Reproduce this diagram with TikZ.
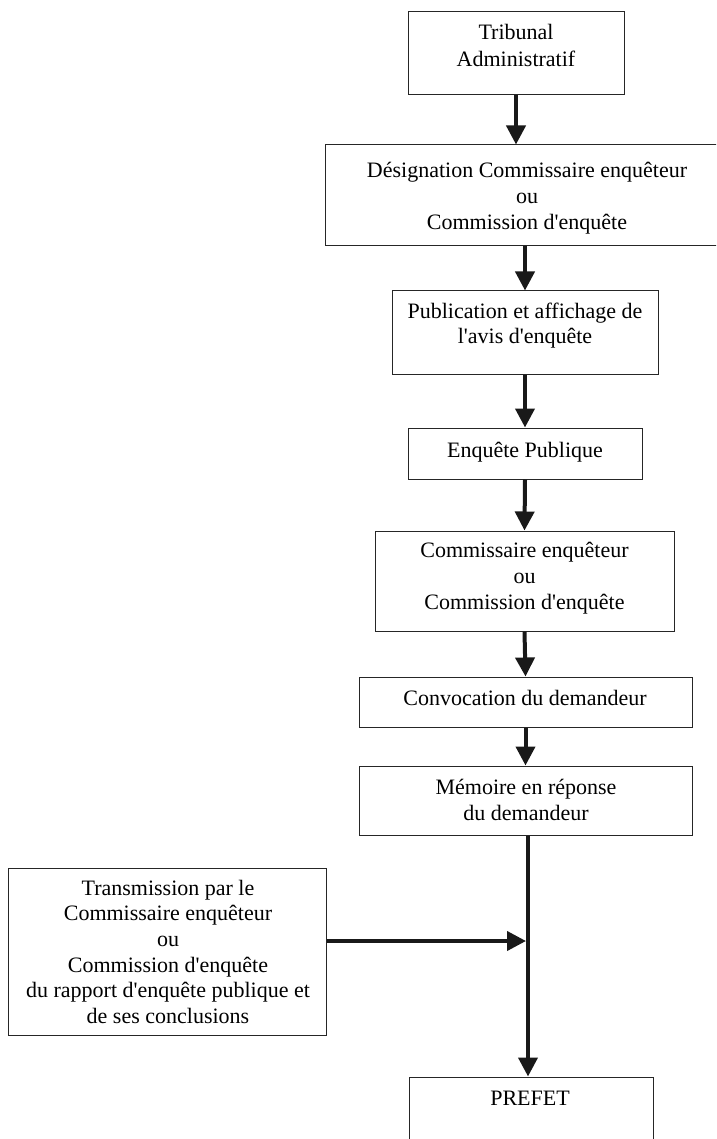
\documentclass[tikz,border=0pt]{standalone}
\usepackage{fontspec}
\setmainfont{Liberation Serif}[Ligatures=TeXOff]
\usetikzlibrary{arrows.meta}
\newcommand\mlines[2]{{\fontsize{22}{#1}\selectfont\begin{tabular}[t]{@{}c@{}}#2\end{tabular}}}
\begin{document}
\begin{tikzpicture}[x=1pt,y=-1pt,
  box/.style={draw=black!85, line width=1pt, inner sep=0pt},
  txt/.style={anchor=base, inner sep=0pt},
  arr/.style={line width=4pt, draw=black!90, -{Triangle[width=19pt,length=19pt]}},
  ln/.style={line width=4pt, draw=black!90}]
\useasboundingbox (0,0) rectangle (716,1139);
\fill[white] (0,0) rectangle (716,1139);
\clip (0,0) rectangle (716,1139);
% boxes
\node[box, minimum width=216pt, minimum height=83pt] (trib) at (516,53.5) {};
\node[box, minimum width=405pt, minimum height=101pt] (desig) at (527.5,195.5) {};
\node[box, minimum width=266pt, minimum height=83pt] (pub) at (525,332.5) {};
\node[box, minimum width=234pt, minimum height=51pt] (enq) at (525,453.5) {};
\node[box, minimum width=299pt, minimum height=100pt] (comm) at (524.5,581) {};
\node[box, minimum width=333pt, minimum height=50pt] (conv) at (525.5,702) {};
\node[box, minimum width=333pt, minimum height=69pt] (mem) at (525.5,800.5) {};
\node[box, minimum width=318pt, minimum height=167pt] (trans) at (167,951.5) {};
\node[box, minimum width=244pt, minimum height=83pt] (prefet) at (531,1118.5) {};
% texts
\node[txt] (tribT) at (516,40) {\mlines{27}{Tribunal\\Administratif}};
\node[txt] (desigT) at (527,178) {\mlines{26}{Désignation Commissaire enquêteur\\ou\\Commission d'enquête}};
\node[txt] (pubT) at (525,318) {\mlines{25}{Publication et affichage de\\l'avis d'enquête}};
\node[txt] (enqT) at (525,457) {\mlines{26}{Enquête Publique}};
\node[txt] (commT) at (524.5,557) {\mlines{26}{Commissaire enquêteur\\ou\\Commission d'enquête}};
\node[txt] (convT) at (525,705) {\mlines{26}{Convocation du demandeur}};
\node[txt] (memT) at (526,794) {\mlines{26}{Mémoire en réponse\\du demandeur}};
\node[txt] (transT) at (168,895) {\mlines{25.7}{Transmission par le\\Commissaire enquêteur\\ou\\Commission d'enquête\\du rapport d'enquête publique et\\de ses conclusions}};
\node[txt] (prefetT) at (530,1105) {\mlines{26}{PREFET}};
% connectors
\draw[arr] (trib.south) -- (desig.north -| trib.south);
\draw[arr] (desig.south -| pub.north) -- (pub.north);
\draw[arr] (pub.south) -- (enq.north);
\draw[arr] (enq.south) -- (comm.north);
\draw[arr] (comm.south) -- (conv.north);
\draw[arr] (conv.south) -- (mem.north);
\coordinate (j) at (528,941);
\draw[ln] (mem.south -| j) -- (j);
\draw[arr] (j) -- (prefet.north -| j);
\draw[arr] (trans.east |- j) -- ([xshift=-2pt]j);
\end{tikzpicture}
\end{document}
